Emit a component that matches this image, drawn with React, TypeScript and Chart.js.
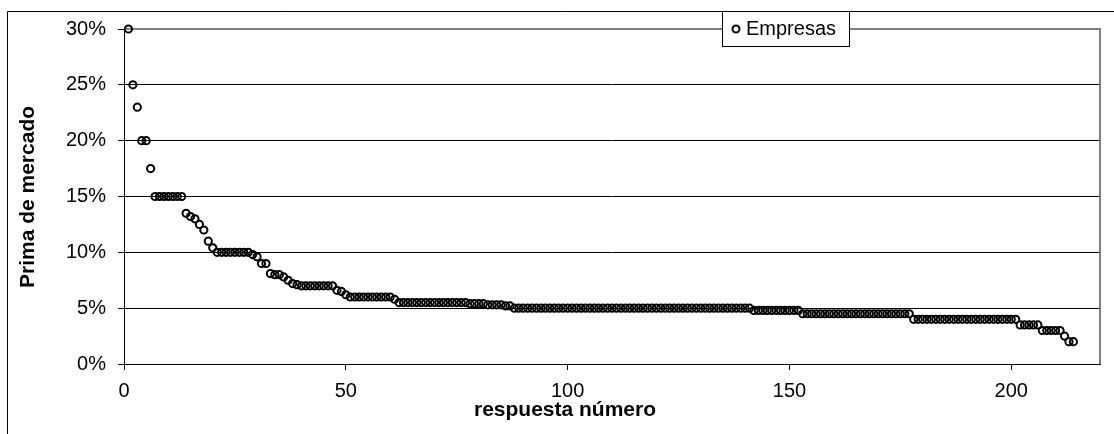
import React, { useEffect, useRef } from "react";
import { Chart, registerables } from "chart.js";

Chart.register(...registerables);

const seriesName = "Empresas";
const xTitle = "respuesta número";
const yTitle = "Prima de mercado";
const xTicks = [0, 50, 100, 150, 200];
const yTicks = [0, 5, 10, 15, 20, 25, 30];

// Prima de mercado (%) for each response, in the order of the response number (1..214)
const primaMercado = [
  30, 25, 23, 20, 20, 17.5,
  15, 15, 15, 15, 15, 15, 15,
  13.5, 13.2, 13, 12.5, 12, 11, 10.4,
  10, 10, 10, 10, 10, 10, 10, 10,
  9.8, 9.6, 9, 9, 8.1, 8, 8, 7.8, 7.5, 7.2, 7.1,
  7, 7, 7, 7, 7, 7, 7, 7,
  6.6, 6.5, 6.2,
  6, 6, 6, 6, 6, 6, 6, 6, 6, 6,
  5.8,
  5.5, 5.5, 5.5, 5.5, 5.5, 5.5, 5.5, 5.5, 5.5, 5.5, 5.5, 5.5, 5.5, 5.5,
  5.5, 5.5, 5.4, 5.4, 5.4, 5.4, 5.3, 5.3, 5.3, 5.3, 5.2, 5.2,
  5, 5, 5, 5, 5, 5, 5, 5, 5, 5,
  5, 5, 5, 5, 5, 5, 5, 5, 5, 5,
  5, 5, 5, 5, 5, 5, 5, 5, 5, 5,
  5, 5, 5, 5, 5, 5, 5, 5, 5, 5,
  5, 5, 5, 5, 5, 5, 5, 5, 5, 5,
  5, 5, 5, 5,
  4.8, 4.8, 4.8, 4.8, 4.8, 4.8, 4.8, 4.8, 4.8, 4.8, 4.8,
  4.5, 4.5, 4.5, 4.5, 4.5, 4.5, 4.5, 4.5, 4.5, 4.5,
  4.5, 4.5, 4.5, 4.5, 4.5, 4.5, 4.5, 4.5, 4.5, 4.5,
  4.5, 4.5, 4.5, 4.5, 4.5,
  4, 4, 4, 4, 4, 4, 4, 4, 4, 4,
  4, 4, 4, 4, 4, 4, 4, 4, 4, 4,
  4, 4, 4, 4,
  3.5, 3.5, 3.5, 3.5, 3.5,
  3, 3, 3, 3, 3,
  2.5, 2, 2,
];

const FONT = "'Liberation Sans', Arial, sans-serif";

const decorPlugin = {
  id: "decor",
  beforeDraw(chart: any) {
    const { ctx, width, height } = chart;
    ctx.save();
    ctx.fillStyle = "#fff";
    ctx.fillRect(0, 0, width, height);
    // outer frame (left and top)
    ctx.strokeStyle = "#000";
    ctx.lineWidth = 1;
    ctx.beginPath();
    ctx.moveTo(7.5, height);
    ctx.lineTo(7.5, 11.5);
    ctx.lineTo(width, 11.5);
    ctx.stroke();
    ctx.restore();
  },
  beforeDatasetsDraw(chart: any) {
    const { ctx, chartArea } = chart;
    ctx.save();
    // plot area border (gray) top & right
    ctx.strokeStyle = "#808080";
    ctx.lineWidth = 2;
    ctx.beginPath();
    ctx.moveTo(chartArea.left, chartArea.top);
    ctx.lineTo(chartArea.right, chartArea.top);
    ctx.lineTo(chartArea.right, chartArea.bottom);
    ctx.stroke();
    ctx.restore();
  },
  afterDraw(chart: any) {
    const { ctx } = chart;
    ctx.save();
    // axis titles
    ctx.fillStyle = "#000";
    ctx.font = `bold 21px ${FONT}`;
    ctx.textAlign = "center";
    ctx.textBaseline = "middle";
    ctx.fillText(xTitle, 565, 410);
    ctx.translate(28, 197);
    ctx.rotate(-Math.PI / 2);
    ctx.fillText(yTitle, 0, 0);
    ctx.restore();

    // legend
    ctx.save();
    const lx = 722, ly = 11, lw = 127, lh = 35;
    ctx.fillStyle = "#fff";
    ctx.fillRect(lx, ly, lw, lh);
    ctx.strokeStyle = "#000";
    ctx.lineWidth = 1;
    ctx.strokeRect(lx + 0.5, ly + 0.5, lw, lh);
    ctx.beginPath();
    ctx.arc(736, 29, 3.5, 0, Math.PI * 2);
    ctx.lineWidth = 2;
    ctx.stroke();
    ctx.fillStyle = "#000";
    ctx.font = `20px ${FONT}`;
    ctx.textAlign = "left";
    ctx.textBaseline = "middle";
    ctx.fillText(seriesName, 746, 29);
    ctx.restore();
  },
};

export default function App() {
  const ref = useRef<HTMLCanvasElement>(null);
  useEffect(() => {
    if (!ref.current) return;
    const points = primaMercado.map((v, i) => ({ x: i + 1, y: v }));
    const chart = new Chart(ref.current, {
      type: "scatter",
      data: {
        datasets: [
          {
            label: seriesName,
            data: points,
            pointStyle: "circle",
            pointRadius: 3.6,
            pointBorderWidth: 2,
            pointBorderColor: "#000",
            pointBackgroundColor: "rgba(0,0,0,0)",
            showLine: false,
            clip: false,
          } as any,
        ],
      },
      options: {
        animation: false,
        responsive: false,
        devicePixelRatio: 1,
        layout: { padding: { left: 0, top: 29, right: 14, bottom: 0 } },
        plugins: {
          legend: { display: false },
          tooltip: { enabled: false },
          title: { display: false },
        },
        scales: {
          x: {
            type: "linear",
            min: 0,
            max: 220,
            afterBuildTicks: (scale: any) => {
              scale.ticks = xTicks.map((v) => ({ value: v }));
            },
            afterFit: (scale: any) => {
              scale.height = 70;
            },
            grid: {
              drawOnChartArea: false,
              drawTicks: true,
              tickLength: 6,
              color: "#000",
            },
            border: { display: true, color: "#000", width: 1 },
            ticks: {
              color: "#000",
              font: { family: FONT, size: 20 },
              padding: 9,
              maxRotation: 0,
              autoSkip: false,
            },
          },
          y: {
            type: "linear",
            min: 0,
            max: 30,
            afterBuildTicks: (scale: any) => {
              scale.ticks = yTicks.map((v) => ({ value: v }));
            },
            afterFit: (scale: any) => {
              scale.width = 124;
            },
            grid: {
              drawOnChartArea: true,
              drawTicks: true,
              tickLength: 6,
              color: "#000",
              lineWidth: 1,
            },
            border: { display: true, color: "#000", width: 1 },
            ticks: {
              color: "#000",
              font: { family: FONT, size: 20 },
              padding: 12,
              callback: (v: any) => `${v}%`,
            },
          },
        },
      },
      plugins: [decorPlugin],
    });
    return () => chart.destroy();
  }, []);

  return (
    <div style={{ position: "fixed", left: 0, top: 0, width: 1114, height: 434, background: "#fff" }}>
      <canvas ref={ref} width={1114} height={434} style={{ width: 1114, height: 434, display: "block" }} />
    </div>
  );
}
